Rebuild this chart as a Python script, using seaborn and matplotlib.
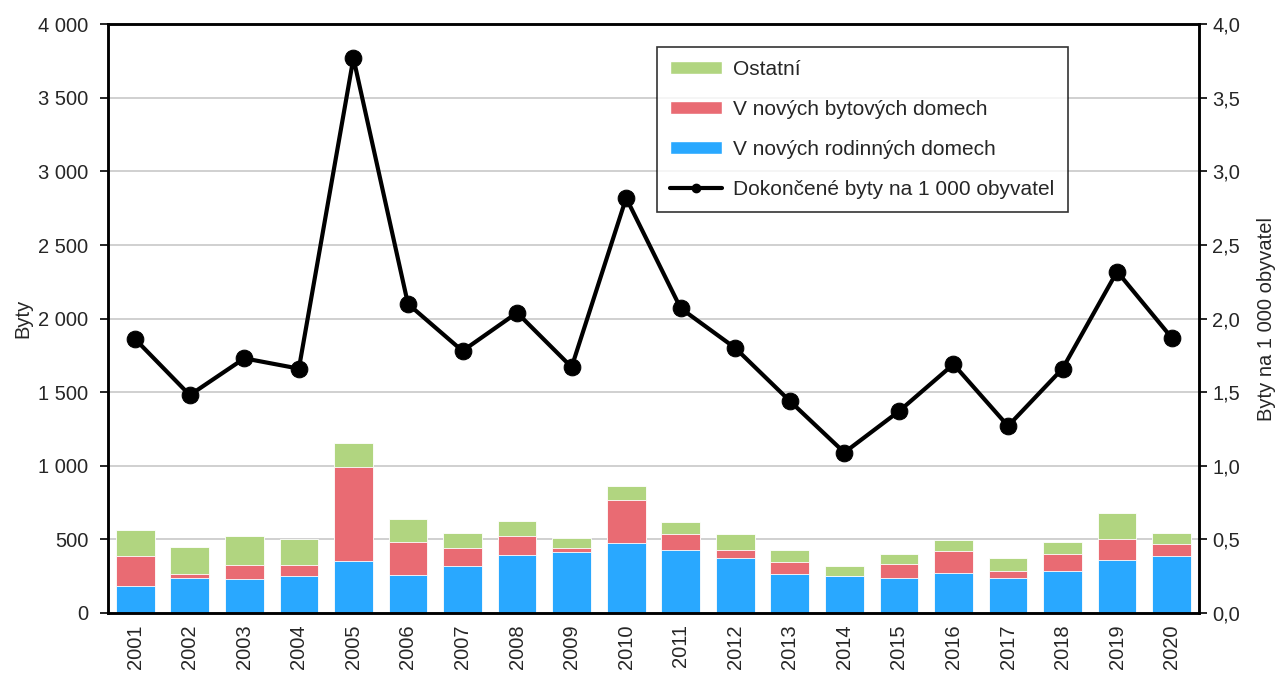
import numpy as np
import pandas as pd
import seaborn as sns
import matplotlib.pyplot as plt
from matplotlib.patches import Patch
from matplotlib.lines import Line2D
from matplotlib.ticker import FuncFormatter, FixedLocator

# Data
years = [str(y) for y in range(2001, 2021)]
rodinne = [181, 234, 229, 252, 355, 259, 321, 394, 414, 475,
           428, 371, 261, 248, 237, 268, 237, 282, 362, 387]
bytove = [205, 29, 94, 73, 636, 223, 120, 131, 25, 294,
          106, 59, 82, 2, 93, 150, 49, 120, 143, 84]
ostatni = [177, 184, 200, 175, 162, 155, 100, 101, 68, 93,
           87, 109, 82, 71, 72, 80, 87, 82, 177, 75]
na_1000 = [1.86, 1.48, 1.73, 1.66, 3.77, 2.10, 1.78, 2.04, 1.67, 2.82,
           2.07, 1.80, 1.44, 1.09, 1.37, 1.69, 1.27, 1.66, 2.32, 1.87]

c_green = '#B1D580'
c_red = '#E96B73'
c_blue = '#29A8FF'

df = pd.DataFrame({'rok': years, 'rd': rodinne, 'bd': bytove, 'ost': ostatni})
df['rd_bd'] = df['rd'] + df['bd']
df['celkem'] = df['rd_bd'] + df['ost']

sns.set_style('white')
plt.rcParams['font.family'] = ['Liberation Sans', 'DejaVu Sans']
plt.rcParams['font.size'] = 14.5

fig = plt.figure(figsize=(12.79, 6.75), dpi=100)
ax = fig.add_axes([0.0844, 0.092, 0.853, 0.872])

# stacked bars: draw totals first, then cumulative sums over them
for col, color in [('celkem', c_green), ('rd_bd', c_red), ('rd', c_blue)]:
    sns.barplot(data=df, x='rok', y=col, color=color, width=0.71,
                edgecolor='white', linewidth=0.6, saturation=1, ax=ax, zorder=2)

ax.set_ylim(0, 4000)
ax.set_xlim(-0.5, len(years) - 0.5)
ax.set_yticks(np.arange(0, 4001, 500))
ax.yaxis.set_major_formatter(FuncFormatter(lambda v, p: f'{int(v):,}'.replace(',', ' ')))
ax.grid(axis='y', color='#C8C8C8', linewidth=1.2, zorder=0)
ax.set_axisbelow(True)
ax.set_ylabel('Byty', fontsize=14.5, labelpad=4)
ax.set_xlabel('')

# Excel-style category axis: ticks between categories, labels centred
ax.xaxis.set_major_locator(FixedLocator(np.arange(-0.5, len(years), 1)))
ax.xaxis.set_minor_locator(FixedLocator(np.arange(len(years))))
ax.set_xticklabels([''] * (len(years) + 1))
ax.set_xticklabels(years, minor=True, rotation=90)
ax.tick_params(axis='x', which='major', direction='out', length=6, width=1.5, color='black')
ax.tick_params(axis='x', which='minor', length=0, pad=8, labelsize=14.5)
ax.tick_params(axis='y', direction='out', length=6, width=1.2, color='black',
               labelsize=14.5, pad=8)
for s in ax.spines.values():
    s.set_color('black')
    s.set_linewidth(1.8)

ax2 = ax.twinx()
sns.lineplot(x=np.arange(len(years)), y=na_1000, color='black', linewidth=3,
             marker='o', markersize=12, markeredgecolor='black', ax=ax2, zorder=5)
ax2.set_ylim(0, 4)
ax2.set_yticks(np.arange(0, 4.01, 0.5))
ax2.yaxis.set_major_formatter(FuncFormatter(lambda v, p: f'{v:.1f}'.replace('.', ',')))
ax2.tick_params(axis='y', direction='out', length=6, width=1.2, color='black', labelsize=14.5)
ax2.set_ylabel('Byty na 1 000 obyvatel', fontsize=14.5, labelpad=12)
for s in ax2.spines.values():
    s.set_color('black')
    s.set_linewidth(1.8)

handles = [
    Patch(facecolor=c_green, label='Ostatní'),
    Patch(facecolor=c_red, label='V nových bytových domech'),
    Patch(facecolor=c_blue, label='V nových rodinných domech'),
    Line2D([0], [0], color='black', linewidth=3, marker='o', markersize=6,
           label='Dokončené byty na 1 000 obyvatel'),
]
leg = ax2.legend(handles=handles, loc='upper left', bbox_to_anchor=(0.503, 0.962),
                 frameon=True, fancybox=False, edgecolor='black', fontsize=15,
                 handlelength=2.5, handleheight=0.6, labelspacing=1.0,
                 borderpad=0.65, handletextpad=0.5, borderaxespad=0)
leg.get_frame().set_linewidth(1.2)

plt.savefig('out.png', dpi=100)
